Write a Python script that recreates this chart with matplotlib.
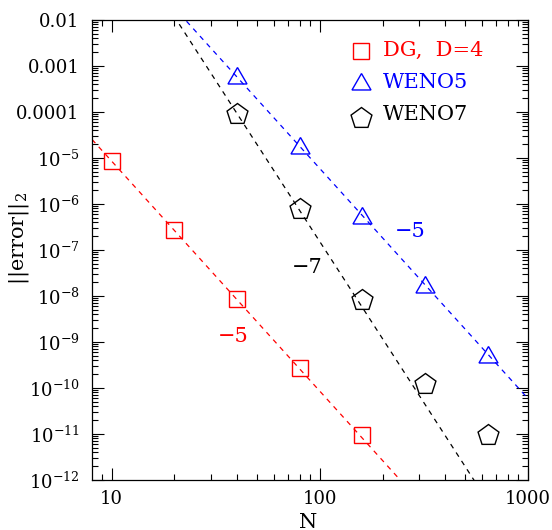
import numpy as np
import matplotlib
matplotlib.use("Agg")
import matplotlib.pyplot as plt
from matplotlib.ticker import FixedLocator, FixedFormatter, LogLocator, NullFormatter

plt.rcParams['font.family'] = ['DejaVu Serif']
plt.rcParams['mathtext.fontset'] = 'dejavuserif'

# ---- data ----
n_dg = [10, 20, 40, 80, 160]
err_dg = [8.7e-6, 2.72e-7, 8.6e-9, 2.68e-10, 9.5e-12]
n_weno5 = [40, 80, 160, 320, 640]
err_weno5 = [5.5e-4, 1.67e-5, 4.97e-7, 1.55e-8, 4.8e-10]
n_weno7 = [40, 80, 160, 320, 640]
err_weno7 = [9.1e-5, 7.8e-7, 8.2e-9, 1.24e-10, 9.5e-12]

# reference slope lines: log10(err) = intercept + slope*log10(N)
slope_dg, icpt_dg = -5, -0.07
slope_w5, icpt_w5 = -5, 4.77
slope_w7, icpt_w7 = -7, 7.18

ytick_vals = [1e-2, 1e-3, 1e-4, 1e-5, 1e-6, 1e-7, 1e-8, 1e-9, 1e-10, 1e-11, 1e-12]
ytick_labels = ["0.01", "0.001", "0.0001", r"$10^{-5}$", r"$10^{-6}$", r"$10^{-7}$",
                r"$10^{-8}$", r"$10^{-9}$", r"$10^{-10}$", r"$10^{-11}$", r"$10^{-12}$"]
xtick_vals = [10, 100, 1000]
xtick_labels = ["10", "100", "1000"]

fig = plt.figure(figsize=(5.52, 5.30), dpi=100)
ax = fig.add_axes([92/552, 50/530, 436/552, 460/530])
ax.set_xscale('log')
ax.set_yscale('log')
ax.set_xlim(8.04, 1000)
ax.set_ylim(1e-12, 1e-2)

xl = np.array([8.04, 1000.0])
dash = (4, 4)
ax.plot(xl, 10**(icpt_dg + slope_dg*np.log10(xl)), color='red', lw=0.9, dashes=dash)
ax.plot(xl, 10**(icpt_w5 + slope_w5*np.log10(xl)), color='blue', lw=0.9, dashes=dash)
ax.plot(xl, 10**(icpt_w7 + slope_w7*np.log10(xl)), color='black', lw=0.9, dashes=dash)

ax.plot(n_dg, err_dg, ls='none', marker='s', ms=11.5, mfc='none', mec='red', mew=1.0)
ax.plot(n_weno5, err_weno5, ls='none', marker=(3, 0, 0), ms=15.8, mfc='none', mec='blue', mew=1.0)
ax.plot(n_weno7, err_weno7, ls='none', marker=(5, 0, 0), ms=15.8, mfc='none', mec='black', mew=1.0)


def px(x, y):
    return ((x - 92) / 436, 1 - (y - 20) / 460)

# slope labels (baseline positions)
for (x, y), s, c in [((233, 342), "\u22125", 'red'), ((307, 273), "\u22127", 'black'),
                     ((410, 237), "\u22125", 'blue')]:
    fx, fy = px(x, y)
    ax.text(fx, fy, s, color=c, fontsize=15, ha='center', va='baseline', transform=ax.transAxes)

# legend
leg = [("DG,  D=4", 's', 11.5, 'red', 50.5, 55.7),
       ("WENO5", (3, 0, 0), 15.8, 'blue', 83.8, 88.3),
       ("WENO7", (5, 0, 0), 15.8, 'black', 118, 120)]
for label, mk, ms, col, my, ty in leg:
    fx, fy = px(361, my)
    ax.plot([fx], [fy], marker=mk, ms=ms, mfc='none', mec=col, mew=1.0, ls='none',
            transform=ax.transAxes, clip_on=False)
    tx, tyy = px(383, ty)
    ax.text(tx, tyy, label, color=col, fontsize=15, ha='left', va='baseline', transform=ax.transAxes)

ax.yaxis.set_major_locator(FixedLocator(ytick_vals))
ax.yaxis.set_major_formatter(FixedFormatter(ytick_labels))
ax.yaxis.set_minor_locator(LogLocator(base=10, subs=np.arange(2, 10), numticks=100))
ax.yaxis.set_minor_formatter(NullFormatter())
ax.xaxis.set_major_locator(FixedLocator(xtick_vals))
ax.xaxis.set_major_formatter(FixedFormatter(xtick_labels))
ax.xaxis.set_minor_locator(LogLocator(base=10, subs=np.arange(2, 10), numticks=100))
ax.xaxis.set_minor_formatter(NullFormatter())

ax.tick_params(which='both', direction='in', top=True, right=True, width=0.8, colors='black')
ax.tick_params(which='major', length=8.5)
ax.tick_params(which='minor', length=4)
ax.tick_params(axis='y', which='major', pad=9, labelsize=13)
ax.tick_params(axis='x', which='major', pad=7, labelsize=13)
for sp in ax.spines.values():
    sp.set_linewidth(0.9)

fig.text(19/552, 1 - 238/530, r"$||\mathrm{error}||_2$", rotation=90, fontsize=15,
         ha='center', va='center')
fig.text(308/552, 1 - 522/530, "N", fontsize=15, ha='center', va='center')

fig.savefig("out.png", dpi=100)
